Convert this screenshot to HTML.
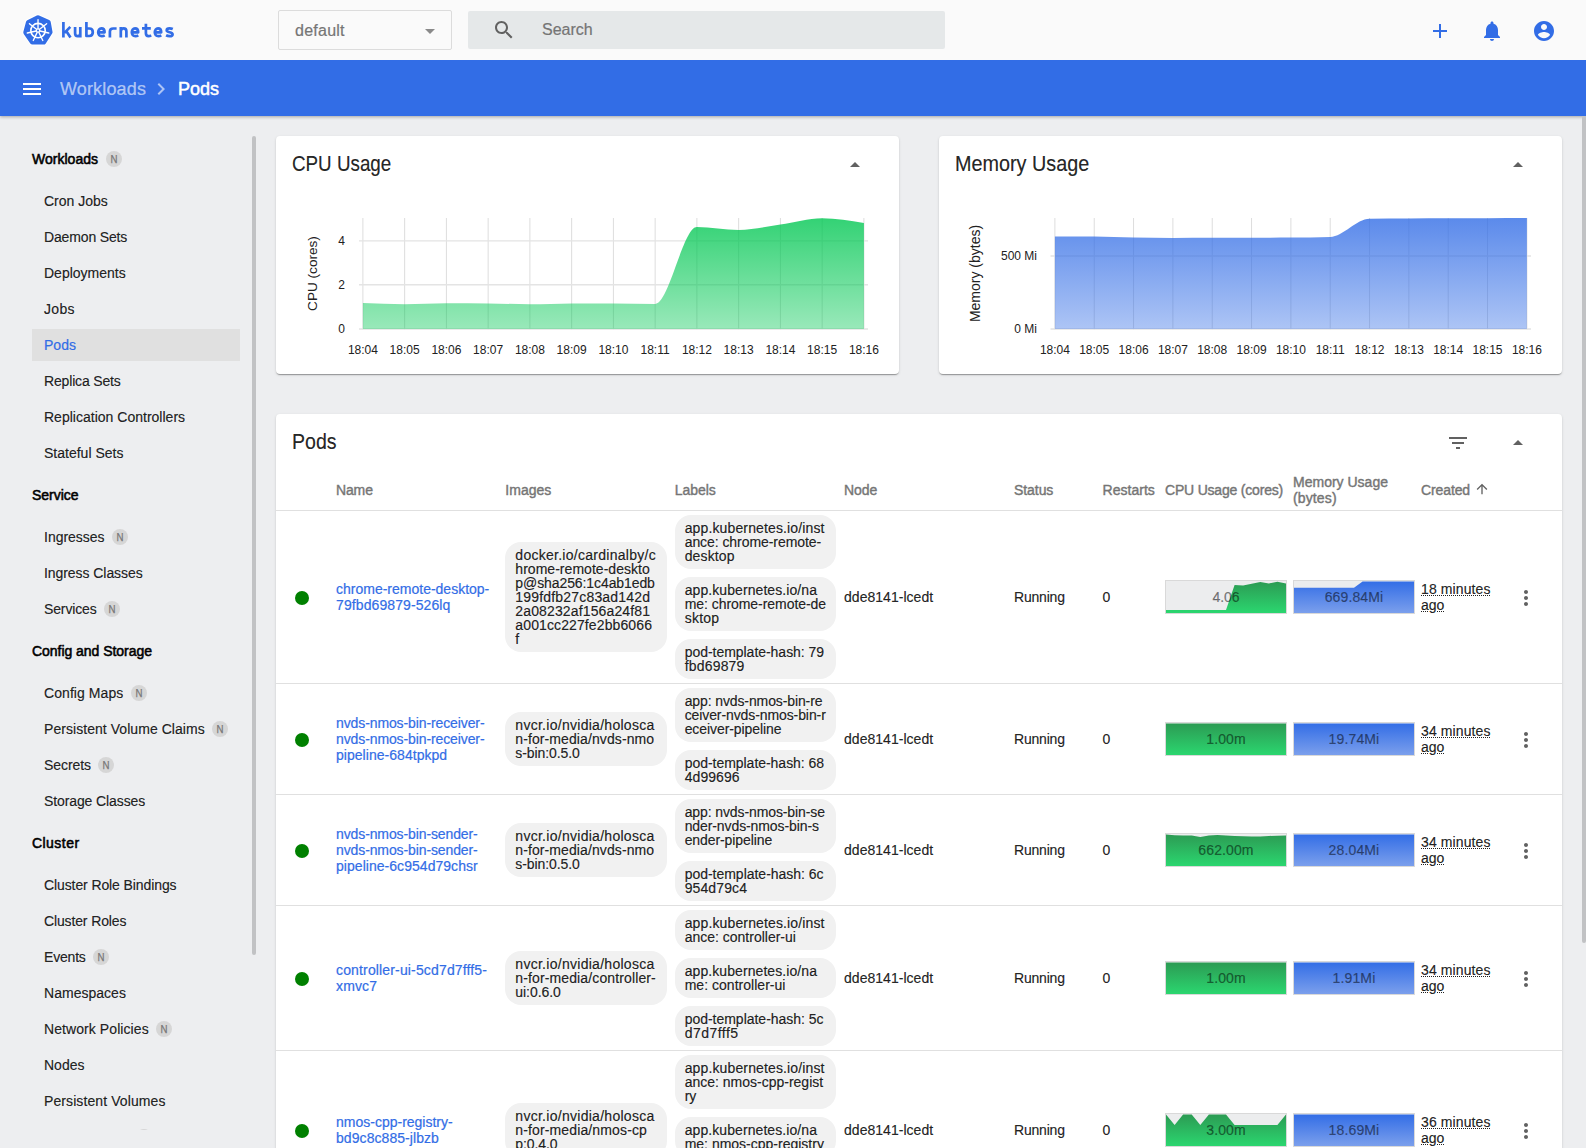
<!DOCTYPE html>
<html>
<head>
<meta charset="utf-8">
<title>Kubernetes Dashboard</title>
<style>
*{box-sizing:border-box;margin:0;padding:0}
html,body{width:1586px;height:1148px;overflow:hidden}
body{-webkit-text-stroke:.2px;font-family:"Liberation Sans",sans-serif;font-size:14px;color:rgba(0,0,0,.87);background:#edeef0;position:relative}
.abs{position:absolute}
#top{position:absolute;left:0;top:0;width:1586px;height:60px;background:#fafafa;z-index:7}
#bar{position:absolute;left:0;top:60px;width:1586px;height:56px;background:#326de6;box-shadow:0 1px 3px rgba(0,0,0,.3);z-index:5}
#side{position:absolute;left:0;top:116px;width:258px;height:1014px;overflow:hidden}
.nav{position:absolute;left:44px;height:16px;line-height:16px;font-size:14px;white-space:nowrap;color:rgba(0,0,0,.87)}
.navh{position:absolute;left:32px;height:16px;line-height:16px;font-size:14px;white-space:nowrap;color:#000;-webkit-text-stroke:.55px #000}
.bdg{display:inline-block;width:16px;height:16px;border-radius:8px;background:#d6d6d6;color:#777;font-size:11px;line-height:16px;text-align:center;vertical-align:top;margin-left:7.3px;-webkit-text-stroke:.25px #777}.navh .bdg{margin-left:8.3px}.bdg i{display:block;font-style:normal;transform:scaleX(.88)}
.card{position:absolute;background:#fff;border-radius:4px;box-shadow:0 2px 1px -1px rgba(0,0,0,.2),0 1px 1px 0 rgba(0,0,0,.14),0 1px 3px 0 rgba(0,0,0,.12)}
.ctitle{position:absolute;left:16px;font-size:20px;line-height:24px;white-space:nowrap;color:rgba(0,0,0,.87)}
.th{position:absolute;font-size:14px;line-height:16px;color:#757575;-webkit-text-stroke:.4px #757575;white-space:nowrap}
.td{position:absolute;font-size:14px;line-height:16px;white-space:nowrap;color:rgba(0,0,0,.87)}
.lnk{position:absolute;font-size:14px;line-height:16px;white-space:nowrap;color:#326de6}
.chip{position:absolute;background:#f1f1f1;border-radius:16px;font-size:14px;line-height:14px;white-space:nowrap;color:rgba(0,0,0,.87);padding:6px 10px 0 10px;width:161.33px}
.hr{position:absolute;left:0;width:1286px;height:1px;background:#e0e0e0}
.dot{position:absolute;width:14px;height:14px;border-radius:7px;background:#008000}
.spark{position:absolute;width:122px;height:34px;background:#ecedee;border:1px solid #d9d9d9;overflow:hidden}
.spark span{position:absolute;left:0;top:0;width:120px;height:32px;line-height:32px;text-align:center;font-size:14px;color:rgba(0,0,0,.5)}
.ago{position:absolute;font-size:14px;line-height:16px;white-space:nowrap;color:rgba(0,0,0,.87);text-decoration:underline dotted;text-decoration-thickness:1px;text-underline-offset:1px}
</style>
</head>
<body>
<!--TOP-->
<div id="top">
<svg class="abs" style="left:21px;top:13px;overflow:visible" width="34" height="34" viewBox="-2 -2 34 34">
<polygon points="15.01,2.79 25.13,7.28 26.95,17.13 20.58,26.98 9.44,26.99 2.88,17.46 5.47,7.59" fill="#fff" stroke="#fff" stroke-width="7.4" stroke-linejoin="round"/>
<polygon points="15.01,2.79 25.13,7.28 26.95,17.13 20.58,26.98 9.44,26.99 2.88,17.46 5.47,7.59" fill="#326de6" stroke="#326de6" stroke-width="5.2" stroke-linejoin="round"/>
<circle cx="15.03" cy="15.56" r="7.2" fill="none" stroke="#fff" stroke-width="1.6"/>
<path d="M15.03 13.56L15.03 4.56M16.59 14.31L23.63 8.70M16.98 16.01L25.75 18.01M15.90 17.36L19.80 25.47M14.16 17.36L10.26 25.47M13.08 16.01L4.31 18.01M13.47 14.31L6.43 8.70" stroke="#fff" stroke-width="1.35" stroke-linecap="round" fill="none"/>
<circle cx="15.03" cy="15.56" r="2.3" fill="#fff"/>
<circle cx="15.03" cy="15.56" r="1.0" fill="#326de6"/>
</svg>
<svg class="abs" style="left:58px;top:14px" width="124" height="32" viewBox="0 0 124 32"><g fill="none" stroke="#326de6" stroke-width="2.7" stroke-linejoin="round"><path transform="translate(3.9,23.5)" d="M1.5,-15.6V0M2.6,-4.6L8.4,-10.6M4.3,-6.4L8.6,0"/><path transform="translate(15.6,23.5)" d="M1.5,-10.5V-4.3C1.5,-2 2.7,-1.45 4.1,-1.45C5.6,-1.45 6.7,-2.2 6.7,-4.3M6.7,-10.5V0"/><path transform="translate(26.9,23.5)" d="M1.5,-15.6V-1.5H4.4C6.8,-1.5 7.9,-3 7.9,-5.25C7.9,-7.5 6.8,-9 4.4,-9H1.5"/><path transform="translate(38.7,23.5)" d="M1.6,-5.2H7.9C7.9,-8 6.6,-9.1 4.7,-9.1C2.7,-9.1 1.5,-7.5 1.5,-5.2C1.5,-2.9 2.8,-1.4 5.1,-1.4C6.3,-1.4 7.2,-1.65 8,-2.1"/><path transform="translate(50.4,23.5)" d="M1.5,0V-6C1.5,-8.4 2.9,-9 4.8,-9H8.2"/><path transform="translate(61.3,23.5)" d="M1.5,0V-10.5M1.5,-6C1.5,-8.4 2.7,-9.1 4.3,-9.1C6,-9.1 7.1,-8.3 7.1,-6V0"/><path transform="translate(72.3,23.5)" d="M1.6,-5.2H7.9C7.9,-8 6.6,-9.1 4.7,-9.1C2.7,-9.1 1.5,-7.5 1.5,-5.2C1.5,-2.9 2.8,-1.4 5.1,-1.4C6.3,-1.4 7.2,-1.65 8,-2.1"/><path transform="translate(84.0,23.5)" d="M3.9,-13.7V-4.2C3.9,-2 4.9,-1.4 6.4,-1.4C7.4,-1.4 8.3,-1.6 9.2,-2.1M0,-9.2H8.8"/><path transform="translate(95.3,23.5)" d="M1.6,-5.2H7.9C7.9,-8 6.6,-9.1 4.7,-9.1C2.7,-9.1 1.5,-7.5 1.5,-5.2C1.5,-2.9 2.8,-1.4 5.1,-1.4C6.3,-1.4 7.2,-1.65 8,-2.1"/><path transform="translate(107.1,23.5)" d="M7.7,-8.4C6.6,-8.9 5.6,-9.15 4.5,-9.15C2.8,-9.15 1.6,-8.5 1.6,-7.2C1.6,-5.9 2.8,-5.55 4.5,-5.2C6.3,-4.8 7.5,-4.4 7.5,-3.1C7.5,-1.8 6.3,-1.35 4.5,-1.35C3.2,-1.35 2,-1.65 1,-2.2"/></g></svg>
<div class="abs" style="left:278px;top:10px;width:174px;height:40px;border:1px solid #dcdcdc;border-radius:2px"></div>
<div class="abs" style="left:295px;top:21px;font-size:16px;line-height:20px;color:#757575;letter-spacing:.25px">default</div>
<svg class="abs" style="left:418px;top:19px" width="24" height="24" viewBox="0 0 24 24"><path d="M7 10l5 5 5-5z" fill="#8a8a8a"/></svg>
<div class="abs" style="left:468px;top:11px;width:477px;height:38px;background:#e5e8e9;border-radius:2px"></div>
<svg class="abs" style="left:492px;top:18px" width="24" height="24" viewBox="0 0 24 24"><path d="M15.5 14h-.79l-.28-.27C15.41 12.59 16 11.11 16 9.5 16 5.91 13.09 3 9.5 3S3 5.91 3 9.5 5.91 16 9.5 16c1.61 0 3.09-.59 4.23-1.57l.27.28v.79l5 4.99L20.49 19l-4.99-5zm-6 0C7.01 14 5 11.99 5 9.5S7.01 5 9.5 5 14 7.01 14 9.5 11.99 14 9.5 14z" fill="#616161"/></svg>
<div class="abs" style="left:542px;top:20px;font-size:16px;line-height:20px;color:#757575">Search</div>
<svg class="abs" style="left:1428px;top:19px" width="24" height="24" viewBox="0 0 24 24"><path d="M19 13h-6v6h-2v-6H5v-2h6V5h2v6h6v2z" fill="#326de6"/></svg>
<svg class="abs" style="left:1480px;top:19px" width="24" height="24" viewBox="0 0 24 24"><path d="M12 22c1.1 0 2-.9 2-2h-4c0 1.1.89 2 2 2zm6-6v-5c0-3.07-1.64-5.64-4.5-6.32V4c0-.83-.67-1.5-1.5-1.5s-1.5.67-1.5 1.5v.68C7.63 5.36 6 7.92 6 11v5l-2 2v1h16v-1l-2-2z" fill="#326de6"/></svg>
<svg class="abs" style="left:1532px;top:19px" width="24" height="24" viewBox="0 0 24 24"><path d="M12 2C6.48 2 2 6.48 2 12s4.48 10 10 10 10-4.48 10-10S17.52 2 12 2zm0 3c1.66 0 3 1.34 3 3s-1.34 3-3 3-3-1.34-3-3 1.34-3 3-3zm0 14.2c-2.5 0-4.71-1.28-6-3.22.03-1.99 4-3.08 6-3.08 1.99 0 5.97 1.09 6 3.08-1.29 1.94-3.5 3.22-6 3.22z" fill="#326de6"/></svg>
</div>
<!--BAR-->
<div id="bar">
<svg class="abs" style="left:20px;top:17px" width="24" height="24" viewBox="0 0 24 24"><path d="M3 18h18v-2H3v2zm0-5h18v-2H3v2zm0-7v2h18V6H3z" fill="#fff"/></svg>
<div class="abs" style="left:60px;top:18px;font-size:18px;line-height:22px;color:rgba(255,255,255,.6);white-space:nowrap;letter-spacing:.15px">Workloads</div>
<svg class="abs" style="left:149px;top:17px" width="24" height="24" viewBox="0 0 24 24"><path d="M10 6L8.59 7.41 13.17 12l-4.58 4.59L10 18l6-6z" fill="rgba(255,255,255,.6)"/></svg>
<div class="abs" style="left:178px;top:18px;font-size:18px;line-height:22px;color:#fff;white-space:nowrap;-webkit-text-stroke:.5px #fff">Pods</div>
</div>
<!--SIDE-->
<div id="side">
<div class="abs" style="left:32px;top:213px;width:208px;height:32px;background:#e0e0e0"></div>
<div class="navh" style="top:35px"><span style="letter-spacing:0.014px">Workloads</span><span class="bdg"><i>N</i></span></div>
<div class="nav" style="top:77px"><span style="letter-spacing:0.000px">Cron Jobs</span></div>
<div class="nav" style="top:113px"><span style="letter-spacing:-0.150px">Daemon Sets</span></div>
<div class="nav" style="top:149px"><span style="letter-spacing:-0.004px">Deployments</span></div>
<div class="nav" style="top:185px"><span style="letter-spacing:0.302px">Jobs</span></div>
<div class="nav" style="top:221px;color:#326de6"><span style="letter-spacing:0.005px">Pods</span></div>
<div class="nav" style="top:257px"><span style="letter-spacing:-0.165px">Replica Sets</span></div>
<div class="nav" style="top:293px"><span style="letter-spacing:0.010px">Replication Controllers</span></div>
<div class="nav" style="top:329px"><span style="letter-spacing:0.005px">Stateful Sets</span></div>
<div class="navh" style="top:371px"><span style="letter-spacing:-0.026px">Service</span></div>
<div class="nav" style="top:413px"><span style="letter-spacing:-0.009px">Ingresses</span><span class="bdg"><i>N</i></span></div>
<div class="nav" style="top:449px"><span style="letter-spacing:-0.063px">Ingress Classes</span></div>
<div class="nav" style="top:485px"><span style="letter-spacing:-0.135px">Services</span><span class="bdg"><i>N</i></span></div>
<div class="navh" style="top:527px"><span style="letter-spacing:-0.036px">Config and Storage</span></div>
<div class="nav" style="top:569px"><span style="letter-spacing:0.065px">Config Maps</span><span class="bdg"><i>N</i></span></div>
<div class="nav" style="top:605px"><span style="letter-spacing:0.052px">Persistent Volume Claims</span><span class="bdg"><i>N</i></span></div>
<div class="nav" style="top:641px"><span style="letter-spacing:-0.066px">Secrets</span><span class="bdg"><i>N</i></span></div>
<div class="nav" style="top:677px"><span style="letter-spacing:-0.104px">Storage Classes</span></div>
<div class="navh" style="top:719px"><span style="letter-spacing:0.451px">Cluster</span></div>
<div class="nav" style="top:761px"><span style="letter-spacing:-0.103px">Cluster Role Bindings</span></div>
<div class="nav" style="top:797px"><span style="letter-spacing:-0.135px">Cluster Roles</span></div>
<div class="nav" style="top:833px"><span style="letter-spacing:-0.188px">Events</span><span class="bdg"><i>N</i></span></div>
<div class="nav" style="top:869px"><span style="letter-spacing:0.023px">Namespaces</span></div>
<div class="nav" style="top:905px"><span style="letter-spacing:0.079px">Network Policies</span><span class="bdg"><i>N</i></span></div>
<div class="nav" style="top:941px"><span style="letter-spacing:0.005px">Nodes</span></div>
<div class="nav" style="top:977px"><span style="letter-spacing:0.092px">Persistent Volumes</span></div>
<div class="nav" style="top:1013px"><span style="letter-spacing:-0.121px">Role Bindings</span><span class="bdg"><i>N</i></span></div>
<div class="abs" style="left:252px;top:20px;width:4px;height:819px;background:#c1c2c4;border-radius:2px"></div>
</div>
<!--CPU-->
<div class="card" id="cpu" style="left:276px;top:136px;width:623px;height:238px">
<div class="ctitle" style="top:16px"><span style="display:inline-block;font-size:21.2px;transform:scaleX(0.8872);transform-origin:0 50%">CPU Usage</span></div>
<svg class="abs" style="left:567px;top:17px" width="24" height="24" viewBox="0 0 24 24"><path d="M7 14l5-5 5 5z" fill="#616161"/></svg>
<svg class="abs" style="left:0;top:0" width="623" height="238" viewBox="276 136 623 238" font-family="Liberation Sans, sans-serif">
<defs><linearGradient id="cg" x1="0" y1="1" x2="0" y2="0"><stop offset="0" stop-color="#00c752" stop-opacity=".5"/><stop offset="1" stop-color="#00c752" stop-opacity="1"/></linearGradient></defs>
<path d="M362.90 218V329.5M404.65 218V329.5M446.40 218V329.5M488.15 218V329.5M529.90 218V329.5M571.65 218V329.5M613.40 218V329.5M655.15 218V329.5M696.90 218V329.5M738.65 218V329.5M780.40 218V329.5M822.15 218V329.5M863.90 218V329.5" stroke="#dddddd" stroke-width="1" fill="none"/>
<path d="M359 240.9H868M359 284.8H868M359 329H868" stroke="#e4e4e4" stroke-width="1.4" fill="none"/>
<path d="M362.90,303.10C376.82,303.65,390.73,304.20,404.65,304.20C418.57,304.20,432.48,303.30,446.40,303.30C460.32,303.30,474.23,303.33,488.15,303.40C502.07,303.47,515.98,304.30,529.90,304.30C543.82,304.30,557.73,303.57,571.65,303.50C585.57,303.43,599.48,303.40,613.40,303.40C627.32,303.40,641.23,303.90,655.15,303.90C669.07,303.90,682.98,227.00,696.90,227.00C710.82,227.00,724.73,229.90,738.65,229.90C752.57,229.90,766.48,226.53,780.40,224.60C794.32,222.67,808.23,218.30,822.15,218.30C836.07,218.30,849.98,220.70,863.90,223.10L863.90,329L362.90,329Z" fill="url(#cg)" opacity=".8"/>
<text x="362.9" y="354" font-size="12" text-anchor="middle" fill="#212121">18:04</text>
<text x="404.6" y="354" font-size="12" text-anchor="middle" fill="#212121">18:05</text>
<text x="446.4" y="354" font-size="12" text-anchor="middle" fill="#212121">18:06</text>
<text x="488.1" y="354" font-size="12" text-anchor="middle" fill="#212121">18:07</text>
<text x="529.9" y="354" font-size="12" text-anchor="middle" fill="#212121">18:08</text>
<text x="571.6" y="354" font-size="12" text-anchor="middle" fill="#212121">18:09</text>
<text x="613.4" y="354" font-size="12" text-anchor="middle" fill="#212121">18:10</text>
<text x="655.1" y="354" font-size="12" text-anchor="middle" fill="#212121">18:11</text>
<text x="696.9" y="354" font-size="12" text-anchor="middle" fill="#212121">18:12</text>
<text x="738.6" y="354" font-size="12" text-anchor="middle" fill="#212121">18:13</text>
<text x="780.4" y="354" font-size="12" text-anchor="middle" fill="#212121">18:14</text>
<text x="822.1" y="354" font-size="12" text-anchor="middle" fill="#212121">18:15</text>
<text x="863.9" y="354" font-size="12" text-anchor="middle" fill="#212121">18:16</text>
<text x="345" y="245.20000000000002" font-size="12" text-anchor="end" fill="#212121">4</text>
<text x="345" y="289.1" font-size="12" text-anchor="end" fill="#212121">2</text>
<text x="345" y="333.3" font-size="12" text-anchor="end" fill="#212121">0</text>
<text transform="translate(316.5,273.5) rotate(-90)" font-size="13.6" text-anchor="middle" fill="#212121">CPU (cores)</text>
</svg>
</div>
<!--MEM-->
<div class="card" id="mem" style="left:939px;top:136px;width:623px;height:238px">
<div class="ctitle" style="top:16px"><span style="display:inline-block;font-size:21.2px;transform:scaleX(0.9344);transform-origin:0 50%">Memory Usage</span></div>
<svg class="abs" style="left:567px;top:17px" width="24" height="24" viewBox="0 0 24 24"><path d="M7 14l5-5 5 5z" fill="#616161"/></svg>
<svg class="abs" style="left:0;top:0" width="623" height="238" viewBox="939 136 623 238" font-family="Liberation Sans, sans-serif">
<defs><linearGradient id="mg" x1="0" y1="1" x2="0" y2="0"><stop offset="0" stop-color="#326de6" stop-opacity=".5"/><stop offset="1" stop-color="#326de6" stop-opacity="1"/></linearGradient></defs>
<path d="M1054.90 218V329.5M1094.23 218V329.5M1133.56 218V329.5M1172.89 218V329.5M1212.22 218V329.5M1251.55 218V329.5M1290.88 218V329.5M1330.21 218V329.5M1369.54 218V329.5M1408.87 218V329.5M1448.20 218V329.5M1487.53 218V329.5M1526.86 218V329.5" stroke="#dddddd" stroke-width="1" fill="none"/>
<path d="M1050.5 256H1531M1050.5 329H1531" stroke="#e4e4e4" stroke-width="1.4" fill="none"/>
<path d="M1054.90,236.40C1068.01,236.42,1081.12,236.43,1094.23,236.50C1107.34,236.57,1120.45,237.40,1133.56,237.60C1146.67,237.80,1159.78,237.90,1172.89,237.90C1186.00,237.90,1199.11,237.83,1212.22,237.80C1225.33,237.77,1238.44,237.75,1251.55,237.70C1264.66,237.65,1277.77,237.63,1290.88,237.50C1303.99,237.37,1317.10,237.30,1330.21,236.90C1343.32,236.50,1356.43,218.90,1369.54,218.70C1382.65,218.50,1395.76,218.47,1408.87,218.40C1421.98,218.33,1435.09,218.33,1448.20,218.30C1461.31,218.27,1474.42,218.23,1487.53,218.20C1500.64,218.17,1513.75,218.13,1526.86,218.10L1526.86,329L1054.90,329Z" fill="url(#mg)" opacity=".8"/>
<text x="1054.9" y="354" font-size="12" text-anchor="middle" fill="#212121">18:04</text>
<text x="1094.2" y="354" font-size="12" text-anchor="middle" fill="#212121">18:05</text>
<text x="1133.6" y="354" font-size="12" text-anchor="middle" fill="#212121">18:06</text>
<text x="1172.9" y="354" font-size="12" text-anchor="middle" fill="#212121">18:07</text>
<text x="1212.2" y="354" font-size="12" text-anchor="middle" fill="#212121">18:08</text>
<text x="1251.6" y="354" font-size="12" text-anchor="middle" fill="#212121">18:09</text>
<text x="1290.9" y="354" font-size="12" text-anchor="middle" fill="#212121">18:10</text>
<text x="1330.2" y="354" font-size="12" text-anchor="middle" fill="#212121">18:11</text>
<text x="1369.5" y="354" font-size="12" text-anchor="middle" fill="#212121">18:12</text>
<text x="1408.9" y="354" font-size="12" text-anchor="middle" fill="#212121">18:13</text>
<text x="1448.2" y="354" font-size="12" text-anchor="middle" fill="#212121">18:14</text>
<text x="1487.5" y="354" font-size="12" text-anchor="middle" fill="#212121">18:15</text>
<text x="1526.9" y="354" font-size="12" text-anchor="middle" fill="#212121">18:16</text>
<text x="1037" y="260.3" font-size="12" text-anchor="end" fill="#212121">500 Mi</text>
<text x="1037" y="333.3" font-size="12" text-anchor="end" fill="#212121">0 Mi</text>
<text transform="translate(979.5,273.5) rotate(-90)" font-size="14" text-anchor="middle" fill="#212121">Memory (bytes)</text>
</svg>
</div>
<!--PODS-->
<div class="card" id="pods" style="left:276px;top:414px;width:1286px;height:760px">
<div class="ctitle" style="top:16px"><span style="display:inline-block;font-size:21.2px;transform:scaleX(0.9230);transform-origin:0 50%">Pods</span></div>
<svg class="abs" style="left:1170px;top:17px" width="24" height="24" viewBox="0 0 24 24"><path d="M10 18h4v-2h-4v2zM3 6v2h18V6H3zm3 7h12v-2H6v2z" fill="#616161"/></svg>
<svg class="abs" style="left:1230px;top:17px" width="24" height="24" viewBox="0 0 24 24"><path d="M7 14l5-5 5 5z" fill="#616161"/></svg>
<div class="th" style="left:60.00px;top:68px"><span style="letter-spacing:-0.136px">Name</span></div>
<div class="th" style="left:229.33px;top:68px"><span style="letter-spacing:0.015px">Images</span></div>
<div class="th" style="left:398.67px;top:68px"><span style="letter-spacing:-0.042px">Labels</span></div>
<div class="th" style="left:568.00px;top:68px"><span style="letter-spacing:-0.067px">Node</span></div>
<div class="th" style="left:738.00px;top:68px"><span style="letter-spacing:-0.065px">Status</span></div>
<div class="th" style="left:826.50px;top:68px"><span style="letter-spacing:0.034px">Restarts</span></div>
<div class="th" style="left:889.00px;top:68px"><span style="letter-spacing:-0.198px">CPU Usage (cores)</span></div>
<div class="th" style="left:1017.00px;top:60px"><span style="letter-spacing:0.007px">Memory Usage</span><br><span style="letter-spacing:0.131px">(bytes)</span></div>
<div class="th" style="left:1145.00px;top:68px"><span style="letter-spacing:-0.115px">Created</span></div>
<svg class="abs" style="left:1198px;top:67px" width="16" height="16" viewBox="0 0 24 24"><path d="M4 12l1.41 1.41L11 7.83V20h2V7.83l5.58 5.59L20 12l-8-8-8 8z" fill="#616161"/></svg>
<div class="hr" style="top:96px"></div>
<svg width="0" height="0" style="position:absolute"><defs><linearGradient id="sg" gradientUnits="userSpaceOnUse" x1="0" y1="0" x2="0" y2="32"><stop offset="0" stop-color="#2c9a53"/><stop offset="1" stop-color="#2bd66f"/></linearGradient><linearGradient id="sb" gradientUnits="userSpaceOnUse" x1="0" y1="0" x2="0" y2="32"><stop offset="0" stop-color="#326de6"/><stop offset="1" stop-color="#7b9fec"/></linearGradient></defs></svg>
<div class="dot" style="left:19px;top:177px"></div>
<div class="lnk" style="left:60px;top:167px">chrome-remote-desktop-<br><span style="letter-spacing:0.097px">79fbd69879-526lq</span></div>
<div class="chip" style="left:229.33px;top:128.0px;height:110px"><span style="letter-spacing:0.271px">docker.io/cardinalby/c</span><br><span style="letter-spacing:0.032px">hrome-remote-deskto</span><br><span style="letter-spacing:-0.09px">p@sha256:1c4ab1edb</span><br><span style="letter-spacing:0.18px">199fdfb27c83ad142d</span><br><span style="letter-spacing:0.134px">2a08232af156a24f81</span><br><span style="letter-spacing:0.114px">a001cc227fe2bb6066</span><br><span style="letter-spacing:0.971px">f</span></div>
<div class="chip" style="left:398.67px;top:101px;height:54px"><span style="letter-spacing:0.134px">app.kubernetes.io/inst</span><br><span style="letter-spacing:-0.06px">ance: chrome-remote-</span><br><span style="letter-spacing:0.144px">desktop</span></div>
<div class="chip" style="left:398.67px;top:163px;height:54px"><span style="letter-spacing:0.08px">app.kubernetes.io/na</span><br><span style="letter-spacing:-0.048px">me: chrome-remote-de</span><br><span style="letter-spacing:0.253px">sktop</span></div>
<div class="chip" style="left:398.67px;top:225px;height:40px"><span style="letter-spacing:-0.032px">pod-template-hash: 79</span><br><span style="letter-spacing:0.191px">fbd69879</span></div>
<div class="td" style="left:568px;top:175px"><span style="letter-spacing:0.03px">dde8141-lcedt</span></div>
<div class="td" style="left:738px;top:175px"><span style="letter-spacing:-0.198px">Running</span></div>
<div class="td" style="left:826.5px;top:175px">0</div>
<div class="spark" style="left:889px;top:166px"><svg class="abs" style="left:0;top:0" width="120" height="32" viewBox="0 0 120 32"><polygon points="0,32 0.0,28.9 8.6,28.9 17.1,28.9 25.7,28.9 34.3,28.9 42.9,28.9 51.4,28.9 60.0,28.9 68.6,4.1 77.1,4.6 85.7,2.7 94.3,1.0 102.9,2.4 111.4,0.8 120.0,2.4 120,32" fill="url(#sg)"/></svg><span>4.06</span></div>
<div class="spark" style="left:1017px;top:166px"><svg class="abs" style="left:0;top:0" width="120" height="32" viewBox="0 0 120 32"><polygon points="0,32 0.0,6.8 8.6,6.8 17.1,6.8 25.7,6.8 34.3,6.8 42.9,6.8 51.4,6.8 60.0,6.8 68.6,0.5 77.1,0.5 85.7,0.5 94.3,0.5 102.9,0.5 111.4,0.5 120.0,0.5 120,32" fill="url(#sb)"/></svg><span><span style="letter-spacing:0.127px">669.84Mi</span></span></div>
<div class="ago" style="left:1145px;top:167px"><span style="letter-spacing:0.103px">18 minutes</span><br>ago</div>
<svg class="abs" style="left:1238px;top:171.5px" width="24" height="24" viewBox="0 0 24 24"><path d="M12 8c1.1 0 2-.9 2-2s-.9-2-2-2-2 .9-2 2 .9 2 2 2zm0 2c-1.1 0-2 .9-2 2s.9 2 2 2 2-.9 2-2-.9-2-2-2zm0 6c-1.1 0-2 .9-2 2s.9 2 2 2 2-.9 2-2-.9-2-2-2z" fill="#616161"/></svg>
<div class="hr" style="top:269px"></div>
<div class="dot" style="left:19px;top:319px"></div>
<div class="lnk" style="left:60px;top:301px"><span style="letter-spacing:-0.107px">nvds-nmos-bin-receiver-</span><br><span style="letter-spacing:-0.107px">nvds-nmos-bin-receiver-</span><br><span style="letter-spacing:0.038px">pipeline-684tpkpd</span></div>
<div class="chip" style="left:229.33px;top:298.0px;height:54px"><span style="letter-spacing:0.28px">nvcr.io/nvidia/holosca</span><br><span style="letter-spacing:0.096px">n-for-media/nvds-nmo</span><br><span style="letter-spacing:-0.088px">s-bin:0.5.0</span></div>
<div class="chip" style="left:398.67px;top:274px;height:54px"><span style="letter-spacing:-0.112px">app: nvds-nmos-bin-re</span><br><span style="letter-spacing:-0.095px">ceiver-nvds-nmos-bin-r</span><br><span style="letter-spacing:-0.077px">eceiver-pipeline</span></div>
<div class="chip" style="left:398.67px;top:336px;height:40px"><span style="letter-spacing:-0.032px">pod-template-hash: 68</span><br><span style="letter-spacing:0.08px">4d99696</span></div>
<div class="td" style="left:568px;top:317px"><span style="letter-spacing:0.03px">dde8141-lcedt</span></div>
<div class="td" style="left:738px;top:317px"><span style="letter-spacing:-0.198px">Running</span></div>
<div class="td" style="left:826.5px;top:317px">0</div>
<div class="spark" style="left:889px;top:308px"><svg class="abs" style="left:0;top:0" width="120" height="32" viewBox="0 0 120 32"><polygon points="0,32 0.0,0.5 8.6,0.5 17.1,0.5 25.7,0.5 34.3,0.5 42.9,0.5 51.4,0.5 60.0,0.5 68.6,0.5 77.1,0.5 85.7,0.5 94.3,0.5 102.9,0.5 111.4,0.5 120.0,0.5 120,32" fill="url(#sg)"/></svg><span><span style="letter-spacing:0.126px">1.00m</span></span></div>
<div class="spark" style="left:1017px;top:308px"><svg class="abs" style="left:0;top:0" width="120" height="32" viewBox="0 0 120 32"><polygon points="0,32 0.0,0.5 8.6,0.5 17.1,0.5 25.7,0.5 34.3,0.5 42.9,0.5 51.4,0.5 60.0,0.5 68.6,0.5 77.1,0.5 85.7,0.5 94.3,0.5 102.9,0.5 111.4,0.5 120.0,0.5 120,32" fill="url(#sb)"/></svg><span><span style="letter-spacing:0.135px">19.74Mi</span></span></div>
<div class="ago" style="left:1145px;top:309px"><span style="letter-spacing:0.103px">34 minutes</span><br>ago</div>
<svg class="abs" style="left:1238px;top:313.5px" width="24" height="24" viewBox="0 0 24 24"><path d="M12 8c1.1 0 2-.9 2-2s-.9-2-2-2-2 .9-2 2 .9 2 2 2zm0 2c-1.1 0-2 .9-2 2s.9 2 2 2 2-.9 2-2-.9-2-2-2zm0 6c-1.1 0-2 .9-2 2s.9 2 2 2 2-.9 2-2-.9-2-2-2z" fill="#616161"/></svg>
<div class="hr" style="top:380px"></div>
<div class="dot" style="left:19px;top:430px"></div>
<div class="lnk" style="left:60px;top:412px"><span style="letter-spacing:-0.109px">nvds-nmos-bin-sender-</span><br><span style="letter-spacing:-0.109px">nvds-nmos-bin-sender-</span><br><span style="letter-spacing:0.04px">pipeline-6c954d79chsr</span></div>
<div class="chip" style="left:229.33px;top:409.0px;height:54px"><span style="letter-spacing:0.28px">nvcr.io/nvidia/holosca</span><br><span style="letter-spacing:0.096px">n-for-media/nvds-nmo</span><br><span style="letter-spacing:-0.088px">s-bin:0.5.0</span></div>
<div class="chip" style="left:398.67px;top:385px;height:54px"><span style="letter-spacing:-0.105px">app: nvds-nmos-bin-se</span><br><span style="letter-spacing:-0.096px">nder-nvds-nmos-bin-s</span><br><span style="letter-spacing:-0.087px">ender-pipeline</span></div>
<div class="chip" style="left:398.67px;top:447px;height:40px"><span style="letter-spacing:-0.02px">pod-template-hash: 6c</span><br><span style="letter-spacing:0.111px">954d79c4</span></div>
<div class="td" style="left:568px;top:428px"><span style="letter-spacing:0.03px">dde8141-lcedt</span></div>
<div class="td" style="left:738px;top:428px"><span style="letter-spacing:-0.198px">Running</span></div>
<div class="td" style="left:826.5px;top:428px">0</div>
<div class="spark" style="left:889px;top:419px"><svg class="abs" style="left:0;top:0" width="120" height="32" viewBox="0 0 120 32"><polygon points="0,32 0.0,0.5 8.6,1.3 17.1,1.4 25.7,1.6 34.3,3.0 42.9,1.6 51.4,1.0 60.0,1.4 68.6,1.9 77.1,2.2 85.7,2.4 94.3,2.5 102.9,1.9 111.4,1.8 120.0,1.4 120,32" fill="url(#sg)"/></svg><span><span style="letter-spacing:0.111px">662.00m</span></span></div>
<div class="spark" style="left:1017px;top:419px"><svg class="abs" style="left:0;top:0" width="120" height="32" viewBox="0 0 120 32"><polygon points="0,32 0.0,0.5 8.6,0.5 17.1,0.5 25.7,0.5 34.3,0.5 42.9,0.5 51.4,0.5 60.0,0.5 68.6,0.5 77.1,0.5 85.7,0.5 94.3,0.5 102.9,0.5 111.4,0.5 120.0,0.5 120,32" fill="url(#sb)"/></svg><span><span style="letter-spacing:0.135px">28.04Mi</span></span></div>
<div class="ago" style="left:1145px;top:420px"><span style="letter-spacing:0.103px">34 minutes</span><br>ago</div>
<svg class="abs" style="left:1238px;top:424.5px" width="24" height="24" viewBox="0 0 24 24"><path d="M12 8c1.1 0 2-.9 2-2s-.9-2-2-2-2 .9-2 2 .9 2 2 2zm0 2c-1.1 0-2 .9-2 2s.9 2 2 2 2-.9 2-2-.9-2-2-2zm0 6c-1.1 0-2 .9-2 2s.9 2 2 2 2-.9 2-2-.9-2-2-2z" fill="#616161"/></svg>
<div class="hr" style="top:491px"></div>
<div class="dot" style="left:19px;top:558px"></div>
<div class="lnk" style="left:60px;top:548px"><span style="letter-spacing:0.151px">controller-ui-5cd7d7fff5-</span><br><span style="letter-spacing:0.146px">xmvc7</span></div>
<div class="chip" style="left:229.33px;top:537.0px;height:54px"><span style="letter-spacing:0.28px">nvcr.io/nvidia/holosca</span><br><span style="letter-spacing:0.123px">n-for-media/controller-</span><br><span style="letter-spacing:-0.058px">ui:0.6.0</span></div>
<div class="chip" style="left:398.67px;top:496px;height:40px"><span style="letter-spacing:0.134px">app.kubernetes.io/inst</span><br>ance: controller-ui</div>
<div class="chip" style="left:398.67px;top:544px;height:40px"><span style="letter-spacing:0.08px">app.kubernetes.io/na</span><br><span style="letter-spacing:0.026px">me: controller-ui</span></div>
<div class="chip" style="left:398.67px;top:592px;height:40px"><span style="letter-spacing:-0.02px">pod-template-hash: 5c</span><br><span style="letter-spacing:0.483px">d7d7fff5</span></div>
<div class="td" style="left:568px;top:556px"><span style="letter-spacing:0.03px">dde8141-lcedt</span></div>
<div class="td" style="left:738px;top:556px"><span style="letter-spacing:-0.198px">Running</span></div>
<div class="td" style="left:826.5px;top:556px">0</div>
<div class="spark" style="left:889px;top:547px"><svg class="abs" style="left:0;top:0" width="120" height="32" viewBox="0 0 120 32"><polygon points="0,32 0.0,0.5 8.6,0.5 17.1,0.5 25.7,0.5 34.3,0.5 42.9,0.5 51.4,0.5 60.0,0.5 68.6,0.5 77.1,0.5 85.7,0.5 94.3,0.5 102.9,0.5 111.4,0.5 120.0,0.5 120,32" fill="url(#sg)"/></svg><span><span style="letter-spacing:0.126px">1.00m</span></span></div>
<div class="spark" style="left:1017px;top:547px"><svg class="abs" style="left:0;top:0" width="120" height="32" viewBox="0 0 120 32"><polygon points="0,32 0.0,0.5 8.6,0.5 17.1,0.5 25.7,0.5 34.3,0.5 42.9,0.5 51.4,0.5 60.0,0.5 68.6,0.5 77.1,0.5 85.7,0.5 94.3,0.5 102.9,0.5 111.4,0.5 120.0,0.5 120,32" fill="url(#sb)"/></svg><span><span style="letter-spacing:0.145px">1.91Mi</span></span></div>
<div class="ago" style="left:1145px;top:548px"><span style="letter-spacing:0.103px">34 minutes</span><br>ago</div>
<svg class="abs" style="left:1238px;top:552.5px" width="24" height="24" viewBox="0 0 24 24"><path d="M12 8c1.1 0 2-.9 2-2s-.9-2-2-2-2 .9-2 2 .9 2 2 2zm0 2c-1.1 0-2 .9-2 2s.9 2 2 2 2-.9 2-2-.9-2-2-2zm0 6c-1.1 0-2 .9-2 2s.9 2 2 2 2-.9 2-2-.9-2-2-2z" fill="#616161"/></svg>
<div class="hr" style="top:636px"></div>
<div class="dot" style="left:19px;top:710px"></div>
<div class="lnk" style="left:60px;top:700px">nmos-cpp-registry-<br><span style="letter-spacing:0.067px">bd9c8c885-jlbzb</span></div>
<div class="chip" style="left:229.33px;top:689.0px;height:54px"><span style="letter-spacing:0.28px">nvcr.io/nvidia/holosca</span><br><span style="letter-spacing:0.131px">n-for-media/nmos-cp</span><br><span style="letter-spacing:-0.088px">p:0.4.0</span></div>
<div class="chip" style="left:398.67px;top:641px;height:54px"><span style="letter-spacing:0.134px">app.kubernetes.io/inst</span><br>ance: nmos-cpp-regist<br><span style="letter-spacing:-0.15px">ry</span></div>
<div class="chip" style="left:398.67px;top:703px;height:40px"><span style="letter-spacing:0.08px">app.kubernetes.io/na</span><br>me: nmos-cpp-registry</div>
<div class="chip" style="left:398.67px;top:751px;height:40px"><span style="letter-spacing:-0.031px">pod-template-hash: bd</span><br><span style="letter-spacing:0.147px">9c8c885</span></div>
<div class="td" style="left:568px;top:708px"><span style="letter-spacing:0.03px">dde8141-lcedt</span></div>
<div class="td" style="left:738px;top:708px"><span style="letter-spacing:-0.198px">Running</span></div>
<div class="td" style="left:826.5px;top:708px">0</div>
<div class="spark" style="left:889px;top:699px"><svg class="abs" style="left:0;top:0" width="120" height="32" viewBox="0 0 120 32"><polygon points="0,32 0.0,0.5 8.6,11.0 17.1,0.5 25.7,0.5 34.3,11.0 42.9,0.5 51.4,0.5 60.0,0.5 68.6,11.0 77.1,11.0 85.7,11.0 94.3,11.0 102.9,11.0 111.4,11.0 120.0,0.5 120,32" fill="url(#sg)"/></svg><span><span style="letter-spacing:0.126px">3.00m</span></span></div>
<div class="spark" style="left:1017px;top:699px"><svg class="abs" style="left:0;top:0" width="120" height="32" viewBox="0 0 120 32"><polygon points="0,32 0.0,0.5 8.6,0.5 17.1,0.5 25.7,0.5 34.3,0.5 42.9,0.5 51.4,0.5 60.0,0.5 68.6,0.5 77.1,0.5 85.7,0.5 94.3,0.5 102.9,0.5 111.4,0.5 120.0,0.5 120,32" fill="url(#sb)"/></svg><span><span style="letter-spacing:0.135px">18.69Mi</span></span></div>
<div class="ago" style="left:1145px;top:700px"><span style="letter-spacing:0.103px">36 minutes</span><br>ago</div>
<svg class="abs" style="left:1238px;top:704.5px" width="24" height="24" viewBox="0 0 24 24"><path d="M12 8c1.1 0 2-.9 2-2s-.9-2-2-2-2 .9-2 2 .9 2 2 2zm0 2c-1.1 0-2 .9-2 2s.9 2 2 2 2-.9 2-2-.9-2-2-2zm0 6c-1.1 0-2 .9-2 2s.9 2 2 2 2-.9 2-2-.9-2-2-2z" fill="#616161"/></svg>
<div class="hr" style="top:795px"></div>
</div>
<!--SCROLL-->
<div class="abs" style="left:1582px;top:116px;width:4px;height:827px;background:#c1c2c4;border-radius:0 0 2px 2px;z-index:6"></div>
</body>
</html>
